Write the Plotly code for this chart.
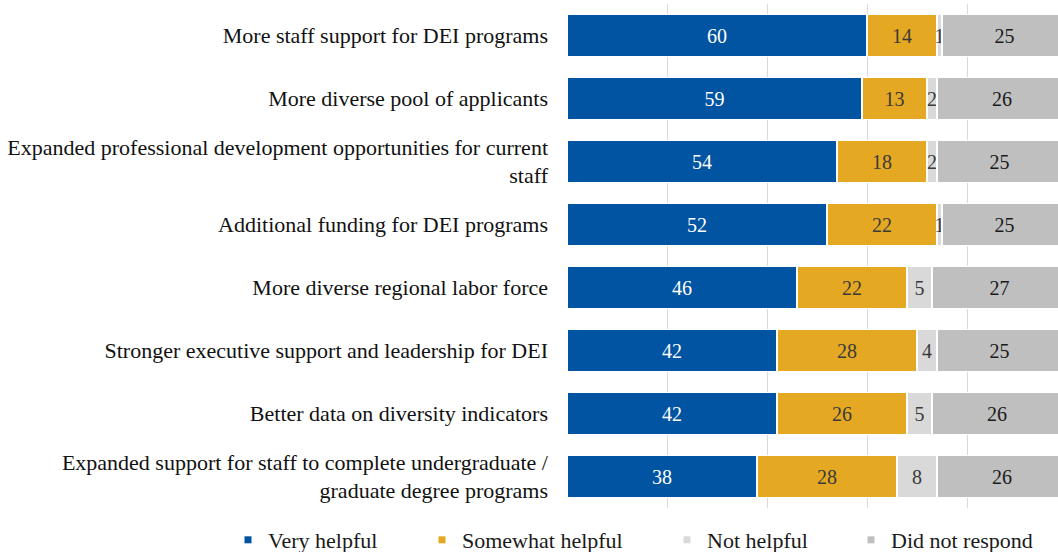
import plotly.graph_objects as go

categories = [
    "More staff support for DEI programs",
    "More diverse pool of applicants",
    "Expanded professional development opportunities for current<br>staff",
    "Additional funding for DEI programs",
    "More diverse regional labor force",
    "Stronger executive support and leadership for DEI",
    "Better data on diversity indicators",
    "Expanded support for staff to complete undergraduate /<br>graduate degree programs",
]
very_helpful = [60, 59, 54, 52, 46, 42, 42, 38]
somewhat_helpful = [14, 13, 18, 22, 22, 28, 26, 28]
not_helpful = [1, 2, 2, 1, 5, 4, 5, 8]
did_not_respond = [25, 26, 25, 25, 27, 25, 26, 26]

series = [
    ("Very helpful", very_helpful, "#0154A1", "white"),
    ("Somewhat helpful", somewhat_helpful, "#E5A823", "#3a3a3a"),
    ("Not helpful", not_helpful, "#D9D9D9", "#3a3a3a"),
    ("Did not respond", did_not_respond, "#BFBFBF", "#1a1a1a"),
]
# left edge (px) of each legend entry's text
legend_text_x = [266, 460, 705, 889]

W, H = 1058, 552
FONT = "Liberation Serif"

fig = go.Figure()
for i, (name, vals, color, tcolor) in enumerate(series):
    fig.add_trace(go.Bar(
        y=categories, x=vals, name=name, orientation="h",
        marker=dict(color=color, line=dict(color="white", width=1.5)),
        text=[str(v) for v in vals], textposition="inside",
        insidetextanchor="middle",
        textfont=dict(family=FONT, size=20, color=tcolor),
        showlegend=False, cliponaxis=True,
    ))
    lg = "legend" if i == 0 else f"legend{i + 1}"
    fig.add_trace(go.Scatter(
        x=[None], y=[None], mode="markers", name=name,
        marker=dict(symbol="square", size=7, color=color),
        legend=lg, showlegend=True,
    ))
    fig.update_layout({lg: dict(
        xref="container", yref="container",
        x=(legend_text_x[i] - 38) / W, y=1 - 540 / H,
        xanchor="left", yanchor="middle",
        orientation="h", itemwidth=30,
        font=dict(family=FONT, size=22, color="#1a1a1a"),
        bgcolor="rgba(0,0,0,0)",
    )})

fig.update_layout(
    width=W, height=H,
    barmode="stack", bargap=1 / 3,
    margin=dict(l=567, r=0, t=4, b=44),
    plot_bgcolor="white", paper_bgcolor="white",
    uniformtext=dict(minsize=20, mode="show"),
    xaxis=dict(range=[0, 98.2], dtick=20, showgrid=True, gridcolor="#D9D9D9",
               gridwidth=1, zeroline=False, showticklabels=False, fixedrange=True),
    yaxis=dict(autorange="reversed", ticklabelstandoff=18,
               tickfont=dict(family=FONT, size=22, color="#111111"),
               showgrid=False, fixedrange=True),
)

fig.write_html("out.html")
